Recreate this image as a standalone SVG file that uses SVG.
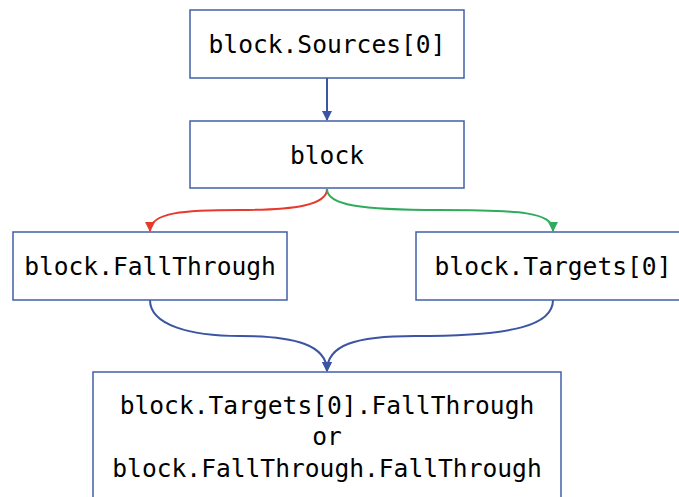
<svg xmlns="http://www.w3.org/2000/svg" width="679" height="497" viewBox="0 0 679 497">
<style>
.box{fill:#ffffff;stroke:#4160a8;stroke-width:1.5}
.t{font-family:"DejaVu Sans Mono","Liberation Mono",monospace;font-size:24.6px;fill:#000;text-anchor:middle}
.c{fill:none;stroke-width:2}
</style>
<defs>
<marker id="ar" viewBox="0 0 10 10" refX="9" refY="5" markerWidth="5" markerHeight="5" orient="auto"><path d="M0,0 L10,5 L0,10 z" fill="#e63a2e"/></marker>
<marker id="ag" viewBox="0 0 10 10" refX="9" refY="5" markerWidth="5" markerHeight="5" orient="auto"><path d="M0,0 L10,5 L0,10 z" fill="#2fab5e"/></marker>
<marker id="ab2" viewBox="0 0 10 10" refX="9" refY="5" markerWidth="5" markerHeight="5" orient="auto"><path d="M0,0 L10,5 L0,10 z" fill="#3b55a3"/></marker>
</defs>
<g id="connectors">
<path class="c" stroke="#3b55a3" d="M327,78 L327,120" marker-end="url(#ab2)"/>
<path class="c" stroke="#e63a2e" d="M327,189 C327,205 295,210 240,210 C185,210 150,212 150,231" marker-end="url(#ar)"/>
<path class="c" stroke="#2fab5e" d="M327,189 C327,205 360,210 440,210 C520,210 553,212 553,231" marker-end="url(#ag)"/>
<path class="c" stroke="#3b55a3" d="M150,300 C150,325 190,336 240,336 C295,336 327,345 327,371" marker-end="url(#ab2)"/>
<path class="c" stroke="#3b55a3" d="M553,300 C553,325 515,336 415,336 C355,336 327,345 327,371" marker-end="url(#ab2)"/>
</g>
<g id="sources">
<rect class="box" x="190" y="10" width="274" height="68"/>
<text class="t" x="327" y="53">block.Sources[0]</text>
</g>
<g id="block">
<rect class="box" x="190" y="121" width="274" height="67"/>
<text class="t" x="327" y="164">block</text>
</g>
<g id="fallthrough">
<rect class="box" x="13" y="232" width="274" height="68"/>
<text class="t" x="150" y="275">block.FallThrough</text>
</g>
<g id="targets">
<rect class="box" x="416" y="232" width="274" height="68"/>
<text class="t" x="553" y="275">block.Targets[0]</text>
</g>
<g id="result">
<rect class="box" x="93" y="372" width="468" height="140"/>
<text class="t" x="327" y="414">block.Targets[0].FallThrough</text>
<text class="t" x="327" y="445">or</text>
<text class="t" x="327" y="477">block.FallThrough.FallThrough</text>
</g>
</svg>
